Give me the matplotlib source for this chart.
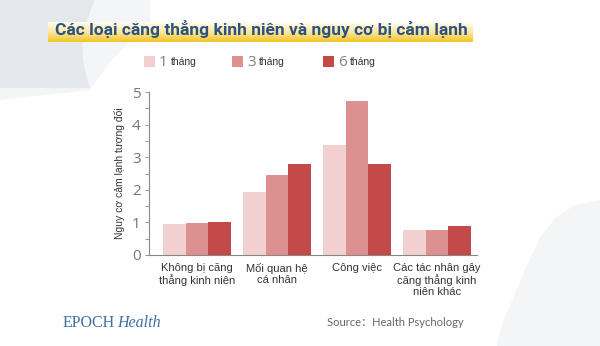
"""
Các loại căng thẳng kinh niên và nguy cơ bị cảm lạnh - grouped bar chart
"""

import numpy as np
import matplotlib
matplotlib.use("Agg")
import matplotlib.pyplot as plt
from matplotlib.patches import Polygon, Rectangle

categories = ["Không bị căng\nthẳng kinh niên", "Mối quan hệ\ncá nhân", "Công việc",
              "Các tác nhân gây\ncăng thẳng kinh\nniên khác"]
series_names = ["1", "3", "6"]
month_1 = [0.95, 1.92, 3.38, 0.76]
month_3 = [0.97, 2.45, 4.72, 0.77]
month_6 = [1.00, 2.80, 2.80, 0.89]
yticks = [0, 1, 2, 3, 4, 5]

colors = ["#f2d0d0", "#dc9090", "#c44a4a"]
title = "Các loại căng thẳng kinh niên và nguy cơ bị cảm lạnh"

plt.rcParams["font.family"] = ["Liberation Sans", "DejaVu Sans"]

fig = plt.figure(figsize=(6, 3.46), dpi=100)
W, H = 600, 346


def fx(px):
    return px / W


def fy(py):
    return 1 - py / H


# background shapes
bg = fig.add_axes([0, 0, 1, 1], zorder=-10)
bg.set_xlim(0, W)
bg.set_ylim(H, 0)
bg.axis("off")
t = np.linspace(0, 1, 40)
blob_light = [(0, 0), (150, 0)] + [(150 - 60 * s, 30 + 60 * s ** 1.5) for s in t] + [(0, 100)]
bg.add_patch(Polygon(blob_light, closed=True, color="#f4f5f7", lw=0))
blob = [(0, 0), (95, 0)] + [(95 - 10 * np.sin(np.pi * s) - 5 * s, 88 * s) for s in t] + [(0, 88)]
bg.add_patch(Polygon(blob, closed=True, color="#e4e7eb", lw=0))
br = [(600, 346), (600, 200), (575, 205), (555, 218), (540, 238), (525, 270),
      (510, 305), (500, 330), (497, 346)]
bg.add_patch(Polygon(br, closed=True, color="#f4f5f7", lw=0))

# title highlight bar with gradient
hl = fig.add_axes([fx(48), fy(42), fx(473 - 48), (42 - 22) / H], zorder=-5)
grad = np.linspace(0, 1, 64).reshape(-1, 1)
cmap = matplotlib.colors.LinearSegmentedColormap.from_list("hl", ["#fffdf2", "#fbe7a0", "#f3c524"])
hl.imshow(grad, aspect="auto", cmap=cmap, extent=[0, 1, 0, 1], origin="upper")
hl.axis("off")
fig.text(fx(261), fy(29), title, ha="center", va="center", fontsize=12.5,
         color="#2c5283", fontweight="bold", family=["Roboto", "DejaVu Sans"])

# legend
for i, (name, c) in enumerate(zip(series_names, colors)):
    x0 = [144, 232, 323][i]
    bg.add_patch(Rectangle((x0, 56), 11, 11, color=c, lw=0))
    bg.text(x0 + 15, 62, name, ha="left", va="center", fontsize=11, color="#808080",
            family=["Open Sans", "DejaVu Sans"])
    bg.text(x0 + 27, 62, "tháng", ha="left", va="center", fontsize=7.5, color="#333333")

# main chart
ax = fig.add_axes([fx(149), 1 - 255 / H, fx(477 - 149), (255 - 92) / H])
x = np.arange(len(categories))
w = 0.282
for k, (vals, c) in enumerate(zip([month_1, month_3, month_6], colors)):
    ax.bar(x + (k - 1) * w, vals, width=w, color=c, lw=0)

ax.set_xlim(-0.6, 3.5)
ax.set_ylim(0, 5)
ax.set_yticks(yticks)
ax.set_yticks(np.arange(0.5, 5, 1.0), minor=True)
ax.set_yticklabels([str(v) for v in yticks], fontsize=11, color="#777777",
                   family=["Open Sans", "DejaVu Sans"])
ax.tick_params(axis="y", which="both", length=3, width=0.6, color="#888888", pad=3)
ax.set_xticks(x)
ax.set_xticklabels(categories, fontsize=8, color="#333333", linespacing=1.1)
ax.tick_params(axis="x", length=0, pad=6)
for s in ["top", "right"]:
    ax.spines[s].set_visible(False)
ax.spines["left"].set_color("#888888")
ax.spines["bottom"].set_color("#888888")
ax.spines["left"].set_linewidth(0.8)
ax.spines["bottom"].set_linewidth(0.8)
ax.set_ylabel("Nguy cơ cảm lạnh tương đối", fontsize=7.5, color="#333333", labelpad=5)
ax.patch.set_alpha(0)

# footer
fig.text(fx(63), fy(323), "EPOCH", ha="left", va="center", fontsize=11.5,
         color="#3f6ea3", family="Liberation Serif")
fig.text(fx(117), fy(323), "Health", ha="left", va="center", fontsize=11.5,
         color="#3f6ea3", family="Liberation Serif", style="italic")
fig.text(fx(327), fy(322), "Source：Health Psychology", ha="left", va="center", fontsize=8,
         color="#666666", family=["Lato", "Noto Sans CJK SC"])

fig.savefig("out.png", dpi=100)
